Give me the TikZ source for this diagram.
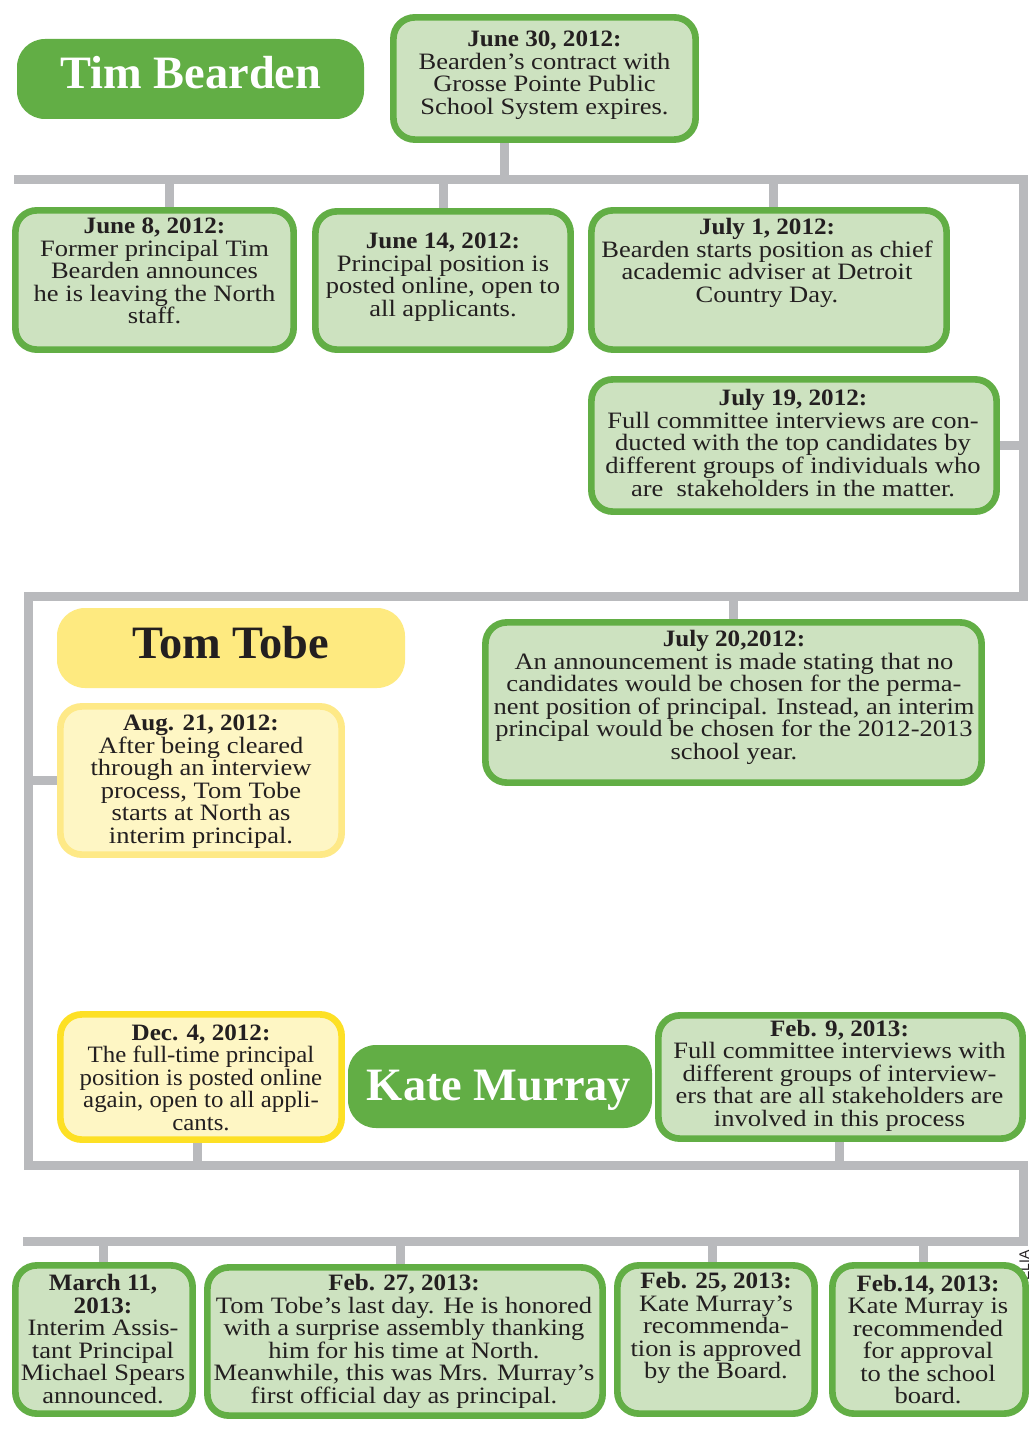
\documentclass[tikz,border=0pt]{standalone}
\usepackage{fontspec}
\setmainfont{Liberation Serif}[FakeStretch=1.13, BoldFeatures={FakeStretch=1.07}]
\newfontfamily\condfont{Liberation Serif}[FakeStretch=1.06, BoldFeatures={FakeStretch=1.07}]
\newfontfamily\headfont{Liberation Serif}
\newfontfamily\creditfont{Liberation Sans}
\usetikzlibrary{fit,backgrounds}
\definecolor{gline}{RGB}{185,186,189}
\definecolor{ggreen}{RGB}{98,174,69}
\definecolor{lgreen}{RGB}{205,226,192}
\definecolor{yhead}{RGB}{254,234,128}
\definecolor{yborder}{RGB}{254,233,135}
\definecolor{ybright}{RGB}{253,224,37}
\definecolor{ypale}{RGB}{254,246,196}
\definecolor{ink}{RGB}{35,31,32}
\tikzset{
  gbox/.style={draw=ggreen, fill=lgreen, line width=5pt, rounded corners=16pt, inner sep=0pt},
  ybox/.style={draw=yborder, fill=ypale, line width=5pt, rounded corners=16pt, inner sep=0pt},
  ybbox/.style={draw=ybright, fill=ypale, line width=5pt, rounded corners=16pt, inner sep=0pt},
  ghead/.style={fill=ggreen, rounded corners=21pt, inner sep=0pt},
  yheadbox/.style={fill=yhead, rounded corners=21pt, inner sep=0pt},
  conn/.style={draw=gline, line width=6.75pt, line join=miter},
  txt/.style={text=ink, align=center, inner sep=0pt, font=\fontsize{17.6}{16.9}\selectfont},
  htxt/.style={anchor=base, inner sep=0pt, font=\headfont\fontsize{34.8}{40}\selectfont\bfseries},
}
\begin{document}
\begin{tikzpicture}[x=0.75pt,y=-0.75pt]
\useasboundingbox (0,0) rectangle (1035,1437);

% header boxes
\node[ghead, fit={(17,39) (364,119)}] (hTim) {};
\node[htxt, text=white] (tTim) at (191,89) {Tim Bearden};
\node[yheadbox, fit={(57,608) (405,688)}] (hTom) {};
\node[htxt, text=ink] (tTom) at (231,658) {Tom Tobe};
\node[ghead, fit={(348,1045) (652,1128)}] (hKate) {};
\node[htxt, text=white] (tKate) at (499,1100) {Kate Murray};

% event boxes
\node[gbox, fit={(393.4,17.4) (695.6,139.6)}] (j30) {};
\node[gbox, fit={(15.4,210.4) (293.6,349.6)}] (j8) {};
\node[gbox, fit={(315.4,211.4) (570.6,349.6)}] (j14) {};
\node[gbox, fit={(591.4,210.4) (946.6,349.6)}] (jl1) {};
\node[gbox, fit={(591.4,379.4) (996.6,511.6)}] (jl19) {};
\node[gbox, fit={(485.4,622.4) (981.6,782.6)}] (jl20) {};
\node[ybox, fit={(60.4,706.4) (341.6,854.6)}] (aug21) {};
\node[ybbox, fit={(60.4,1014.4) (341.6,1139.6)}] (dec4) {};
\node[gbox, fit={(658.4,1015.4) (1022.6,1138.6)}] (feb9) {};
\node[gbox, fit={(15.4,1265.4) (192.6,1413.6)}] (mar11) {};
\node[gbox, fit={(207.4,1267.4) (602.6,1415.6)}] (feb27) {};
\node[gbox, fit={(617.4,1265.4) (814.6,1413.6)}] (feb25) {};
\node[gbox, fit={(832.4,1265.4) (1025.6,1413.6)}] (feb14) {};

% texts
\node[txt] (xj30) at (544.5,75) {\textbf{June 30, 2012:}\\Bearden’s contract with\\Grosse Pointe Public\\School System expires.};
\node[txt] (xj8) at (154.5,271) {\textbf{June 8, 2012:}\\Former principal Tim\\Bearden announces\\he is leaving the North\\staff.};
\node[txt] (xj14) at (443,277) {\textbf{June 14, 2012:}\\Principal position is\\posted online, open to\\all applicants.};
\node[txt] (xjl1) at (767,263) {\textbf{July 1, 2012:}\\Bearden starts position as chief\\academic adviser at Detroit\\Country Day.};
\node[txt] (xjl19) at (793,443) {\textbf{July 19, 2012:}\\Full committee interviews are con-\\ducted with the top candidates by\\different groups of individuals who\\are~\ stakeholders in the matter.};
\node[txt] (xjl20) at (734,697.5) {\textbf{July 20,2012:}\\An announcement is made stating that no\\candidates would be chosen for the perma-\\nent position of principal. Instead, an interim\\principal would be chosen for the 2012-2013\\school year.};
\node[txt] (xaug21) at (201,781.5) {\textbf{Aug. 21, 2012:}\\After being cleared\\through an interview\\process, Tom Tobe\\starts at North as\\interim principal.};
\node[txt, font=\condfont\fontsize{17.6}{16.9}\selectfont] (xdec4) at (201,1077.5) {\textbf{Dec. 4, 2012:}\\The full-time principal\\position is posted online\\again, open to all appli-\\cants.};
\node[txt] (xfeb9) at (839.5,1075.5) {\textbf{Feb. 9, 2013:}\\Full committee interviews with\\different groups of interview-\\ers that are all stakeholders are\\involved in this process};
\node[txt] (xmar11) at (103,1339) {\textbf{March 11,}\\\textbf{2013:}\\Interim Assis-\\tant Principal\\Michael Spears\\announced.};
\node[txt] (xfeb27) at (404,1341.5) {\textbf{Feb. 27, 2013:}\\Tom Tobe’s last day. He is honored\\with a surprise assembly thanking\\him for his time at North.\\Meanwhile, this was Mrs. Murray’s\\first official day as principal.};
\node[txt] (xfeb25) at (716,1328) {\textbf{Feb. 25, 2013:}\\Kate Murray’s\\recommenda-\\tion is approved\\by the Board.};
\node[txt] (xfeb14) at (928,1339.5) {\textbf{Feb.14, 2013:}\\Kate Murray is\\recommended\\for approval\\to the school\\board.};

\begin{pgfonlayer}{background}
  \fill[white] (0,0) rectangle (1035,1437);
  % frame corners
  \coordinate (f1) at (14,180);
  \coordinate (f2) at (1023,180);
  \coordinate (f3) at (1023,596);
  \coordinate (f4) at (28,596);
  \coordinate (f5) at (28,1165);
  \coordinate (f6) at (1023,1165);
  \coordinate (f7) at (1023,1241);
  \coordinate (f8) at (23,1241);
  \draw[conn] (f1) -- (f2) -- (f3) -- (f4) -- (f5) -- (f6) -- (f7) -- (f8);
  % drop points
  \coordinate (d30) at (504.5,180);
  \coordinate (d8) at (169.5,180);
  \coordinate (d14) at (443,180);
  \coordinate (dl1) at (773,180);
  \coordinate (dl20) at (733,596);
  \coordinate (dd4) at (197,1165);
  \coordinate (df9) at (839,1165);
  \coordinate (dm11) at (103,1241);
  \coordinate (df27) at (400,1241);
  \coordinate (df25) at (712,1241);
  \coordinate (df14) at (923,1241);
  \draw[conn] (j30.south -| d30) -- (d30);
  \draw[conn] (d8) -- (d8 |- j8.north);
  \draw[conn] (d14) -- (d14 |- j14.north);
  \draw[conn] (dl1) -- (dl1 |- jl1.north);
  \draw[conn] (jl19.east) -- (jl19.east -| f2);
  \draw[conn] (dl20) -- (dl20 |- jl20.north);
  \draw[conn] (aug21.west) -- (aug21.west -| f4);
  \draw[conn] (dec4.south -| dd4) -- (dd4);
  \draw[conn] (feb9.south -| df9) -- (df9);
  \draw[conn] (dm11) -- (dm11 |- mar11.north);
  \draw[conn] (df27) -- (df27 |- feb27.north);
  \draw[conn] (df25) -- (df25 |- feb25.north);
  \draw[conn] (df14) -- (df14 |- feb14.north);
  \node[rotate=90, anchor=base west, inner sep=0pt, text=ink, font=\creditfont\fontsize{10.5}{12}\selectfont] (credit) at (1029,1281) {ELIA};
\end{pgfonlayer}
\end{tikzpicture}
\end{document}
